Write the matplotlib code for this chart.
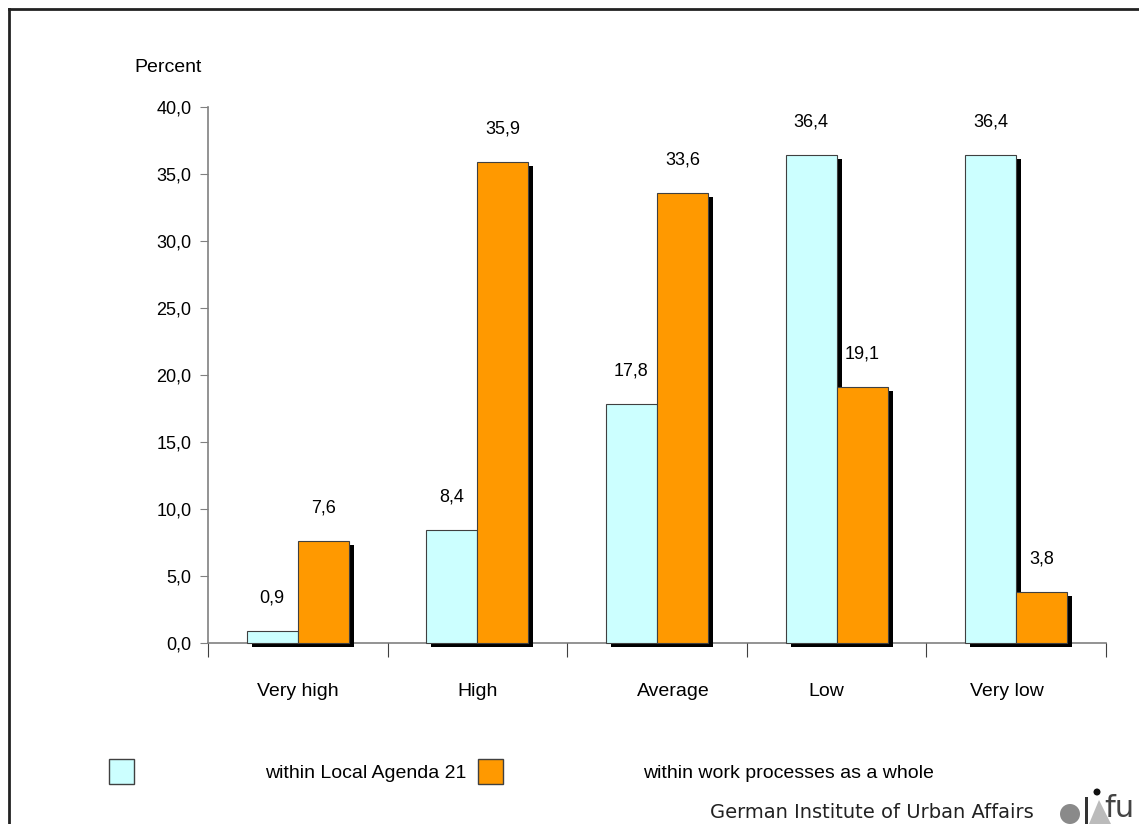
import matplotlib
matplotlib.use("Agg")
import matplotlib.pyplot as plt
import matplotlib.transforms as mtransforms
from matplotlib.lines import Line2D
from matplotlib.patches import Rectangle, Circle, Polygon

categories = ["Very high", "High", "Average", "Low", "Very low"]
local_agenda = [0.9, 8.4, 17.8, 36.4, 36.4]
work_processes = [7.6, 35.9, 33.6, 19.1, 3.8]
yticks = [0, 5, 10, 15, 20, 25, 30, 35, 40]
series_names = ["within Local Agenda 21", "within work processes as a whole"]

plt.rcParams['font.family'] = ['Liberation Sans', 'DejaVu Sans']

W, H = 1139, 824
fig = plt.figure(figsize=(W / 100, H / 100), dpi=100)

def fx(px):
    return px / W

def fy(py):
    return 1 - py / H

ax = fig.add_axes([fx(208), fy(643), fx(1106) - fx(208), fy(107) - fy(643)])

cyan = "#CCFFFF"
orange = "#FF9900"
edge = "#404040"
bw = 0.284
centers = [i + 0.5 for i in range(len(categories))]
x1 = [c - bw / 2 for c in centers]
x2 = [c + bw / 2 for c in centers]

shadow_tr = mtransforms.offset_copy(ax.transData, fig=fig, x=5, y=-4, units='dots')
ax.bar(x1, local_agenda, width=bw, color='black', transform=shadow_tr, zorder=1, clip_on=False)
ax.bar(x2, work_processes, width=bw, color='black', transform=shadow_tr, zorder=1, clip_on=False)
ax.bar(x1, local_agenda, width=bw, color=cyan, edgecolor=edge, linewidth=0.8, zorder=3, clip_on=False)
ax.bar(x2, work_processes, width=bw, color=orange, edgecolor=edge, linewidth=0.8, zorder=3, clip_on=False)

def fmt(v):
    return f"{v:.1f}".replace(".", ",")

for x, v in zip(x1, local_agenda):
    ax.annotate(fmt(v), (x, v), xytext=(0, 33), textcoords='offset pixels',
                ha='center', va='center', fontsize=13)
for x, v in zip(x2, work_processes):
    ax.annotate(fmt(v), (x, v), xytext=(0, 33), textcoords='offset pixels',
                ha='center', va='center', fontsize=13)

ax.set_xlim(0, len(categories))
ax.set_ylim(0, 40)
ax.set_yticks(yticks)
ax.set_yticklabels([fmt(t) for t in yticks], fontsize=13)
ax.set_xticks(range(len(categories) + 1))
ax.set_xticklabels([])
ax.tick_params(axis='y', direction='out', length=6, color='#808080', pad=6)
ax.tick_params(axis='x', direction='out', length=10, color='#404040')
for s in ['top', 'right']:
    ax.spines[s].set_visible(False)
for s in ['left', 'bottom']:
    ax.spines[s].set_color('#808080')
    ax.spines[s].set_linewidth(1.2)
ax.spines['bottom'].set_zorder(0)

label_offsets = [0, 0, 0.09, -0.06, -0.05]
for c, lab, off in zip(centers, categories, label_offsets):
    ax.annotate(lab, (c + off, 0), xytext=(0, -49), textcoords='offset pixels',
                ha='center', va='center', fontsize=14, annotation_clip=False)

fig.text(fx(168), fy(67), "Percent", ha='center', va='center', fontsize=14)

# legend
fig.add_artist(Rectangle((fx(109), fy(784)), fx(25), fy(759) - fy(784),
                         facecolor=cyan, edgecolor=edge, linewidth=1, transform=fig.transFigure))
fig.add_artist(Rectangle((fx(478), fy(784)), fx(25), fy(759) - fy(784),
                         facecolor=orange, edgecolor=edge, linewidth=1, transform=fig.transFigure))
fig.text(fx(265), fy(774), series_names[0], ha='left', va='center', fontsize=14)
fig.text(fx(643), fy(774), series_names[1], ha='left', va='center', fontsize=14)

# footer
px = mtransforms.IdentityTransform()
fig.text(fx(1034), fy(813), "German Institute of Urban Affairs", ha='right', va='center',
         fontsize=14, family=['DejaVu Sans'], color='#222222')
fig.add_artist(Circle((1070, H - 814), 10, transform=px,
                      facecolor='#8a8a8a', edgecolor='none'))
fig.add_artist(Rectangle((1085, 0), 3, H - 797, transform=px,
                         facecolor='#333333', edgecolor='none'))
fig.add_artist(Polygon([(1089, 0), (1111, 0), (1099, H - 800)], closed=True,
                       transform=px, facecolor='#bbbbbb', edgecolor='none'))
fig.add_artist(Circle((1097, H - 792), 3.5, transform=px,
                      facecolor='#111111', edgecolor='none'))
fig.text(fx(1104), fy(823), "fu", ha='left', va='bottom', fontsize=22,
         color='#444444', family=['DejaVu Sans'])

# border
fig.add_artist(Line2D([fx(9), fx(9)], [0, fy(9)], color='#222222', linewidth=2, transform=fig.transFigure))
fig.add_artist(Line2D([fx(9), 1], [fy(9), fy(9)], color='#222222', linewidth=2, transform=fig.transFigure))

fig.savefig("out.png", dpi=100)
